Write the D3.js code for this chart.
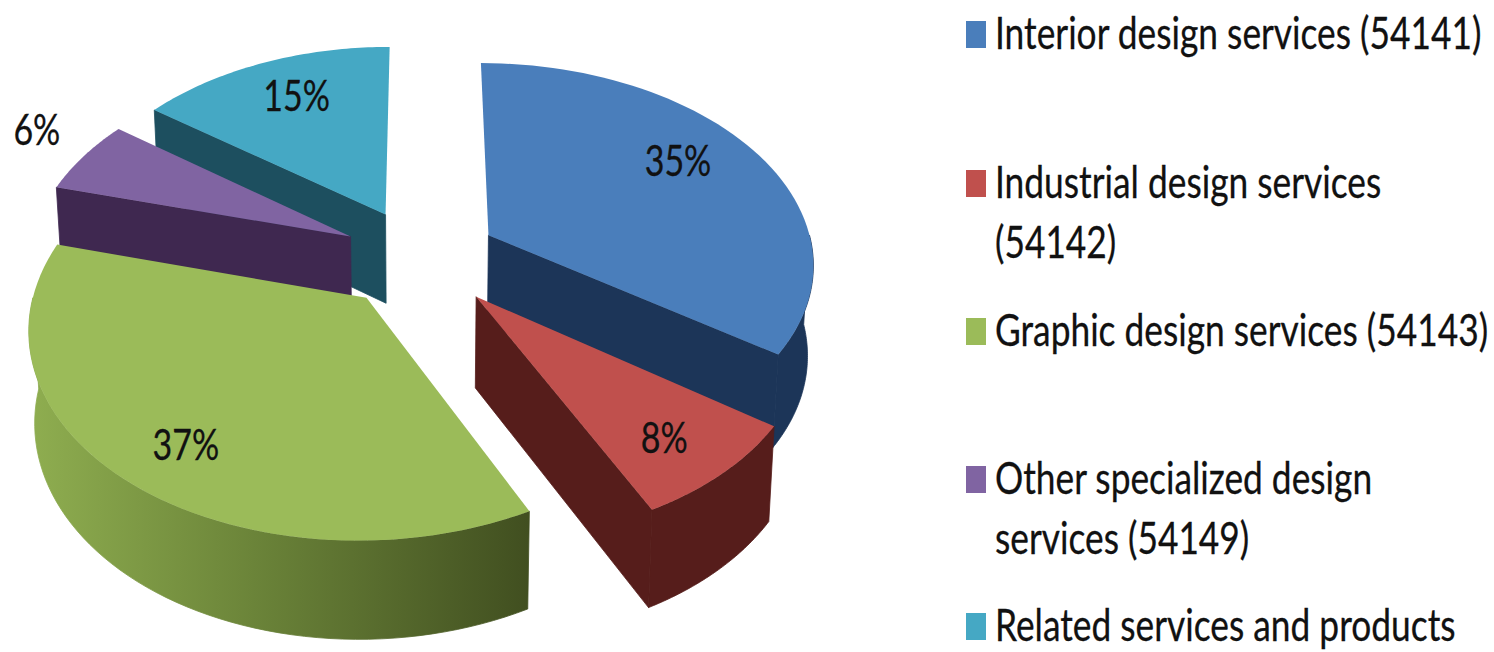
<!DOCTYPE html>
<html>
<head>
<meta charset="utf-8">
<script src="https://cdn.jsdelivr.net/npm/d3@7"></script>
<style>
  html, body { margin: 0; padding: 0; background: #fff; overflow: hidden; }
  text { font-family: Lato, "Liberation Sans", sans-serif; fill: #111; stroke: #111; stroke-width: 0.3px; }
</style>
</head>
<body>
<div id="chart"></div>
<script>
// data
const categories = [
  "Interior design services (54141)",
  "Industrial design services (54142)",
  "Graphic design services (54143)",
  "Other specialized design services (54149)",
  "Related services and products"
];
const shares = [35, 8, 37, 6, 15];
const shareLabels = ["35%", "8%", "37%", "6%", "15%"];

// legend line breaks, as in the picture
const legendLines = [
  ["Interior design services (54141)"],
  ["Industrial design services", "(54142)"],
  ["Graphic design services (54143)"],
  ["Other specialized design", "services (54149)"],
  ["Related services and products"]
];

// colours
const topColors = ["#4a7ebb", "#c0504d", "#9bbb59", "#8064a2", "#45a8c4"];
const sideColors = ["#1c3558", "#561d1b", "url(#greenSide)", "#3f2850", "#1d4f5f"];

const width = 1494, height = 652;

// pie projection
const cx = 422, cy = 258;
const rx = 322, ry = 200;
const persp = 0.13;
const explode = 0.25;
const depth = 90;
const shrink = 0.985;

// small per-slice sideways correction: shift, then stretch of the radius
const sliceFit = [[-0.012, 1.012], [0, 1], [-0.01, 1.01], [0, 1], [-0.004, 1]];

// where each label sits: share of the slice sweep, share of the radius
const labelPlace = [[0.46, 0.75], [0.55, 0.8], [0.483, 0.8], [0.63, 1.23], [0.53, 0.75]];

const svg = d3.select("#chart")
  .append("svg")
  .attr("width", width)
  .attr("height", height);

const grad = svg.append("defs").append("linearGradient")
  .attr("id", "greenSide")
  .attr("gradientUnits", "userSpaceOnUse")
  .attr("x1", 28).attr("x2", 528).attr("y1", 0).attr("y2", 0);
grad.append("stop").attr("offset", "0%").attr("stop-color", "#8fae50");
grad.append("stop").attr("offset", "45%").attr("stop-color", "#6b8439");
grad.append("stop").attr("offset", "100%").attr("stop-color", "#414f20");

const slices = d3.pie().sort(null).value(d => d)(shares);

// disc point -> screen point
function project(slice, angle, r) {
  const mid = (slice.startAngle + slice.endAngle) / 2;
  const [shift, stretch] = sliceFit[slice.index];
  const u = shift + explode * Math.sin(mid) + stretch * r * Math.sin(angle);
  const v = -explode * Math.cos(mid) - r * Math.cos(angle);
  const s = 1 / (1 - persp * v);
  return { x: cx + s * rx * u, y: cy + s * ry * v, s };
}

// same point on the underside of the slice
function lower(p) {
  return {
    x: cx + (p.x - cx) * shrink,
    y: p.y + depth * (1 + 0.53 * (p.s - 1))
  };
}

const line = d3.line().x(d => d.x).y(d => d.y);

function arcPoints(slice, a0, a1) {
  return d3.range(0, 61).map(i => project(slice, a0 + (a1 - a0) * i / 60, 1));
}

function face(points) {
  return line(points.concat(points.map(lower).reverse())) + "Z";
}

// back slices first
const order = d3.range(slices.length).sort((a, b) => {
  const m = s => (s.startAngle + s.endAngle) / 2;
  return -Math.cos(m(slices[a])) - -Math.cos(m(slices[b]));
});

order.forEach(i => {
  const d = slices[i];
  const g = svg.append("g");
  const apex = project(d, d.startAngle, 0);

  const addSide = pts => g.append("path")
    .attr("d", face(pts))
    .attr("fill", sideColors[i])
    .attr("stroke", sideColors[i])
    .attr("stroke-width", 0.8);

  // cut faces turned toward the viewer
  if (Math.sin(d.startAngle) < 0) addSide([apex, project(d, d.startAngle, 1)]);
  if (Math.sin(d.endAngle) > 0) addSide([apex, project(d, d.endAngle, 1)]);

  // outer wall, front half only
  const a0 = Math.max(d.startAngle, Math.PI / 2);
  const a1 = Math.min(d.endAngle, Math.PI * 1.5);
  if (a1 > a0) addSide(arcPoints(d, a0, a1));

  // top
  g.append("path")
    .attr("d", line([apex].concat(arcPoints(d, d.startAngle, d.endAngle))) + "Z")
    .attr("fill", topColors[i]);
});

// labels on the slices
slices.forEach((d, i) => {
  const [f, r] = labelPlace[i];
  const p = project(d, d.startAngle + (d.endAngle - d.startAngle) * f, r);
  svg.append("text")
    .attr("transform", `translate(${p.x},${p.y + 15}) scale(0.79,1)`)
    .attr("text-anchor", "middle")
    .attr("font-size", 43)
    .text(shareLabels[i]);
});

// legend
const legendX = 966;
const legendBase = [49, 198, 346, 494, 641];
const lineStep = 60;
legendLines.forEach((lines, i) => {
  svg.append("rect")
    .attr("x", legendX)
    .attr("y", legendBase[i] - 28)
    .attr("width", 20)
    .attr("height", 27)
    .attr("fill", topColors[i]);
  lines.forEach((t, j) => {
    svg.append("text")
      .attr("transform", `translate(${legendX + 29},${legendBase[i] + j * lineStep}) scale(0.785,1)`)
      .attr("font-size", 45)
      .text(t);
  });
});
</script>
</body>
</html>
